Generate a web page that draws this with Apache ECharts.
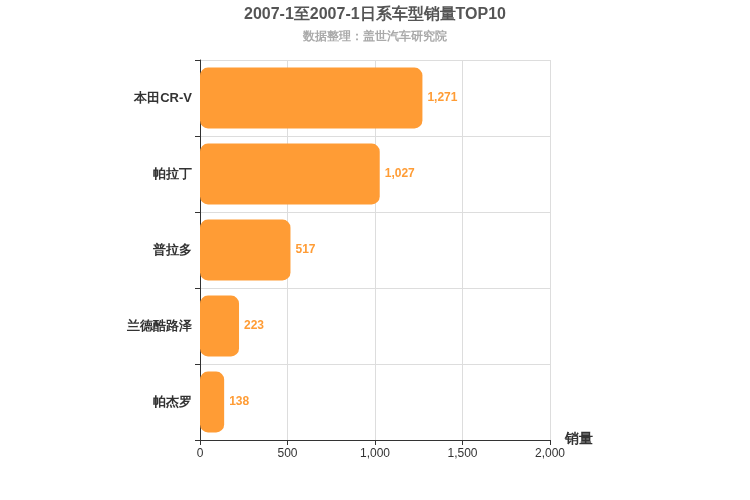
<!DOCTYPE html>
<html><head><meta charset="utf-8">
<script src="https://cdn.jsdelivr.net/npm/echarts@6/dist/echarts.min.js"></script>
<style>html,body{margin:0;padding:0;background:#fff}#c{width:750px;height:500px}</style>
</head><body><div id="c"></div>
<script>
const categories = ['本田CR-V', '帕拉丁', '普拉多', '兰德酷路泽', '帕杰罗'];
const sales = [1271, 1027, 517, 223, 138];
const xTicks = [0, 500, 1000, 1500, 2000];
const chart = echarts.init(document.getElementById('c'));
chart.setOption({
  animation: false,
  title: {
    text: '2007-1至2007-1日系车型销量TOP10', subtext: '数据整理：盖世汽车研究院',
    left: 'center', top: 2, itemGap: 8,
    textStyle: {fontSize: 16, fontWeight: 'bold', color: '#555'},
    subtextStyle: {fontSize: 12, fontWeight: 'bold', color: '#aaa'}
  },
  grid: {left: 200, right: 200, top: 60, bottom: 60, containLabel: false},
  xAxis: {
    type: 'value', min: xTicks[0], max: xTicks[xTicks.length - 1], interval: 500,
    name: '销量', nameLocation: 'end', nameGap: 15,
    nameTextStyle: {fontSize: 14, fontWeight: 'bold', color: '#333', verticalAlign: 'top', padding: [-8, 0, 0, 0]},
    axisLine: {show: true, lineStyle: {color: '#333'}},
    axisTick: {show: true, lineStyle: {color: '#333'}},
    axisLabel: {color: '#333', fontSize: 12},
    splitLine: {lineStyle: {color: '#ddd'}}
  },
  yAxis: {
    type: 'category', data: categories, inverse: true,
    axisLine: {show: true, lineStyle: {color: '#333'}},
    axisTick: {show: true, lineStyle: {color: '#333'}},
    axisLabel: {color: '#333', fontSize: 13, fontWeight: 'bold', margin: 8},
    splitLine: {show: true, lineStyle: {color: '#ddd'}}
  },
  series: [{
    type: 'bar', data: sales, barWidth: '80%',
    itemStyle: {color: '#ff9c35', borderRadius: 8},
    label: {show: true, position: 'right', color: '#ff9c35', fontWeight: 'bold', fontSize: 12,
      formatter: p => p.value.toLocaleString('en-US')}
  }]
});
</script></body></html>
